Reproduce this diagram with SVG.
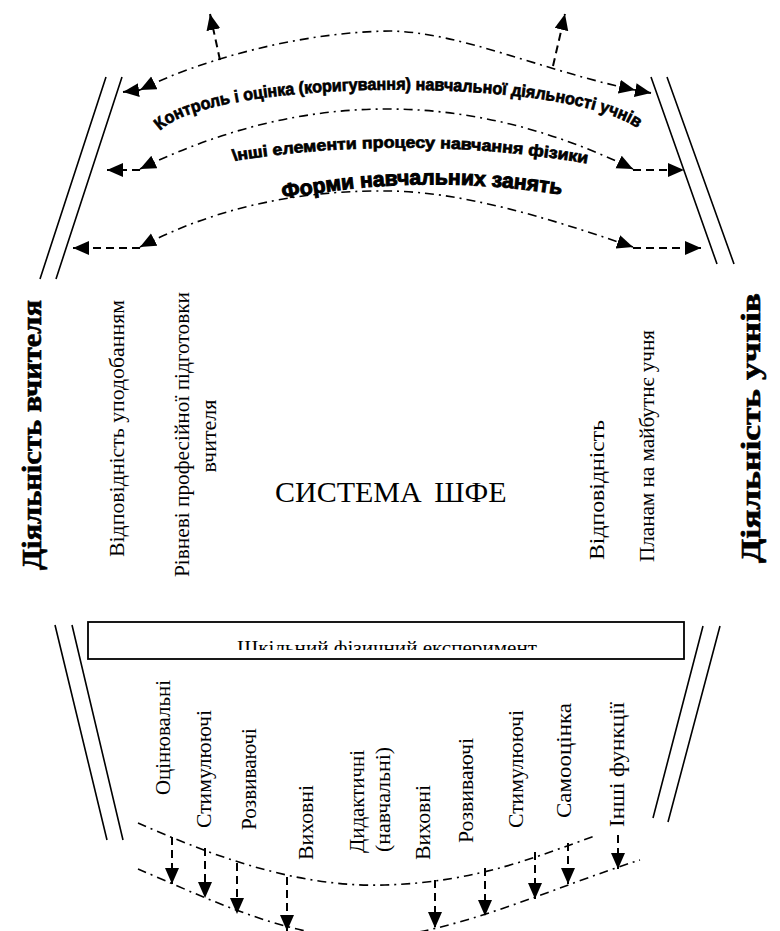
<svg xmlns="http://www.w3.org/2000/svg" width="780" height="931" viewBox="0 0 780 931">
<style>
.dd{fill:none;stroke:#000;stroke-width:1.6;stroke-dasharray:9 5 2 5}
.da{fill:none;stroke:#000;stroke-width:2;stroke-dasharray:8 5}
.ln{fill:none;stroke:#000;stroke-width:1.6}
.ser{font-family:"Liberation Serif","Times New Roman",serif;font-size:20px;fill:#000}
.ttl{font-family:"Liberation Serif","Times New Roman",serif;font-size:28px;font-weight:bold;fill:#000;stroke:#000;stroke-width:0.6}
.arc{font-family:"Liberation Sans",Arial,sans-serif;font-weight:bold;fill:#000;stroke:#000}
</style>
<defs>
<marker id="ah" markerWidth="18" markerHeight="15" refX="16" refY="7" orient="auto-start-reverse" markerUnits="userSpaceOnUse"><path d="M0,0 L16,7 L0,14 z" fill="#000"/></marker>
<path id="tp1" d="M160,131 C213,76 577,76 641,131"/>
<path id="tp2" d="M233,161 Q411,133 590,164"/>
<path id="tp3" d="M283,199 Q423,172 563,195"/>
<clipPath id="boxclip"><rect x="88" y="622" width="596" height="28"/></clipPath>
</defs>
<rect width="780" height="931" fill="#fff"/>

<g id="frame-lines">
<path class="ln" d="M106,77 L40,279 M122,77 L56,279"/>
<path class="ln" d="M651,77 L717,264 M667,77 L734,264"/>
<path class="ln" d="M55,625 L107,840 M72,625 L123,840"/>
<path class="ln" d="M703,626 L653,818 M720,626 L668,822"/>
</g>

<g id="connectors">
<path class="dd" d="M140,90 C200,60 300,32 390,31 C460,32 540,70 635,90" marker-start="url(#ah)" marker-end="url(#ah)"/>
<path class="da" d="M140,90 L123,92" marker-end="url(#ah)"/>
<path class="da" d="M635,90 L651,93" marker-end="url(#ah)"/>
<path class="da" d="M220,60 L210,14" marker-end="url(#ah)"/>
<path class="da" d="M553,66 L565,14" marker-end="url(#ah)"/>

<path class="dd" d="M140,169 Q387,49 633,169" marker-start="url(#ah)" marker-end="url(#ah)"/>
<path class="da" d="M140,170 L107,170" marker-end="url(#ah)"/>
<path class="da" d="M633,170 L684,170" marker-end="url(#ah)"/>

<path class="dd" d="M140,247 C230,200 320,190 390,191 C460,192 540,215 633,247" marker-start="url(#ah)" marker-end="url(#ah)"/>
<path class="da" d="M140,248 L73,248" marker-end="url(#ah)"/>
<path class="da" d="M633,248 L701,248" marker-end="url(#ah)"/>

<path class="dd" d="M138,823 C200,850 290,888 385,885 S540,855 595,836"/>
<path class="dd" d="M138,869 C200,895 290,940 370,938 S560,885 640,860"/>
<path class="da" d="M172,837 L172,884" marker-end="url(#ah)"/>
<path class="da" d="M205,848 L205,898" marker-end="url(#ah)"/>
<path class="da" d="M237,863 L237,914" marker-end="url(#ah)"/>
<path class="da" d="M287,877 L287,931" marker-end="url(#ah)"/>
<path class="da" d="M435,880 L435,928" marker-end="url(#ah)"/>
<path class="da" d="M485,868 L485,916" marker-end="url(#ah)"/>
<path class="da" d="M535,852 L535,899" marker-end="url(#ah)"/>
<path class="da" d="M568,843 L568,884" marker-end="url(#ah)"/>
<path class="da" d="M618,835 L618,869" marker-end="url(#ah)"/>
</g>

<g id="arc-labels">
<text class="arc" font-size="17" stroke-width="0.7"><textPath href="#tp1" textLength="490" lengthAdjust="spacingAndGlyphs">Контроль і оцінка (коригування) навчальної діяльності учнів</textPath></text>
<text class="arc" font-size="16" stroke-width="0.7"><textPath href="#tp2" textLength="356" lengthAdjust="spacingAndGlyphs">\нші елементи процесу навчання фізики</textPath></text>
<text class="arc" font-size="21" stroke-width="1"><textPath href="#tp3" textLength="280" lengthAdjust="spacingAndGlyphs">Форми навчальних занять</textPath></text>
</g>

<g id="teacher">
<text class="ttl" transform="translate(41,570) rotate(-90)" textLength="270" lengthAdjust="spacingAndGlyphs">Діяльність вчителя</text>
<text class="ser" transform="translate(124,557) rotate(-90)" textLength="257" lengthAdjust="spacingAndGlyphs">Відповідність уподобанням</text>
<text class="ser" transform="translate(189,434.5) rotate(-90)" text-anchor="middle" textLength="285" lengthAdjust="spacingAndGlyphs">Рівневі професійної підготовки</text>
<text class="ser" transform="translate(216,436) rotate(-90)" text-anchor="middle" textLength="73" lengthAdjust="spacingAndGlyphs">вчителя</text>
</g>

<g id="students">
<text class="ttl" transform="translate(760,563) rotate(-90)" textLength="270" lengthAdjust="spacingAndGlyphs">Діяльність учнів</text>
<text class="ser" transform="translate(604,560) rotate(-90)" textLength="140" lengthAdjust="spacingAndGlyphs">Відповідність</text>
<text class="ser" transform="translate(654,562) rotate(-90)" textLength="232" lengthAdjust="spacingAndGlyphs">Планам на майбутнє учня</text>
</g>

<g id="system">
<text class="ser" x="275" y="502" word-spacing="5" style="font-size:30px">СИСТЕМА ШФЕ</text>
</g>

<g id="experiment-box">
<rect x="88" y="622" width="596" height="37" fill="#fff" stroke="#000" stroke-width="1.8"/>
<text class="ser" x="387" y="654" text-anchor="middle" style="font-size:19px" textLength="300" lengthAdjust="spacingAndGlyphs" clip-path="url(#boxclip)">Шкільний фізичний експеримент</text>
</g>

<g id="functions">
<text class="ser" transform="translate(170,795) rotate(-90)" textLength="115" lengthAdjust="spacingAndGlyphs">Оцінювальні</text>
<text class="ser" transform="translate(211,828) rotate(-90)" textLength="118" lengthAdjust="spacingAndGlyphs">Стимулюючі</text>
<text class="ser" transform="translate(256,830) rotate(-90)" textLength="102" lengthAdjust="spacingAndGlyphs">Розвиваючі</text>
<text class="ser" transform="translate(313,860) rotate(-90)" textLength="75" lengthAdjust="spacingAndGlyphs">Виховні</text>
<text class="ser" transform="translate(364,801.5) rotate(-90)" text-anchor="middle" textLength="103" lengthAdjust="spacingAndGlyphs">Дидактичні</text>
<text class="ser" transform="translate(390,799.5) rotate(-90)" text-anchor="middle" textLength="105" lengthAdjust="spacingAndGlyphs">(навчальні)</text>
<text class="ser" transform="translate(430,860) rotate(-90)" textLength="75" lengthAdjust="spacingAndGlyphs">Виховні</text>
<text class="ser" transform="translate(473,843) rotate(-90)" textLength="105" lengthAdjust="spacingAndGlyphs">Розвиваючі</text>
<text class="ser" transform="translate(523,828) rotate(-90)" textLength="118" lengthAdjust="spacingAndGlyphs">Стимулюючі</text>
<text class="ser" transform="translate(571,818) rotate(-90)" textLength="115" lengthAdjust="spacingAndGlyphs">Самооцінка</text>
<text class="ser" transform="translate(624,827) rotate(-90)" textLength="125" lengthAdjust="spacingAndGlyphs">Інші функції</text>
</g>
</svg>
